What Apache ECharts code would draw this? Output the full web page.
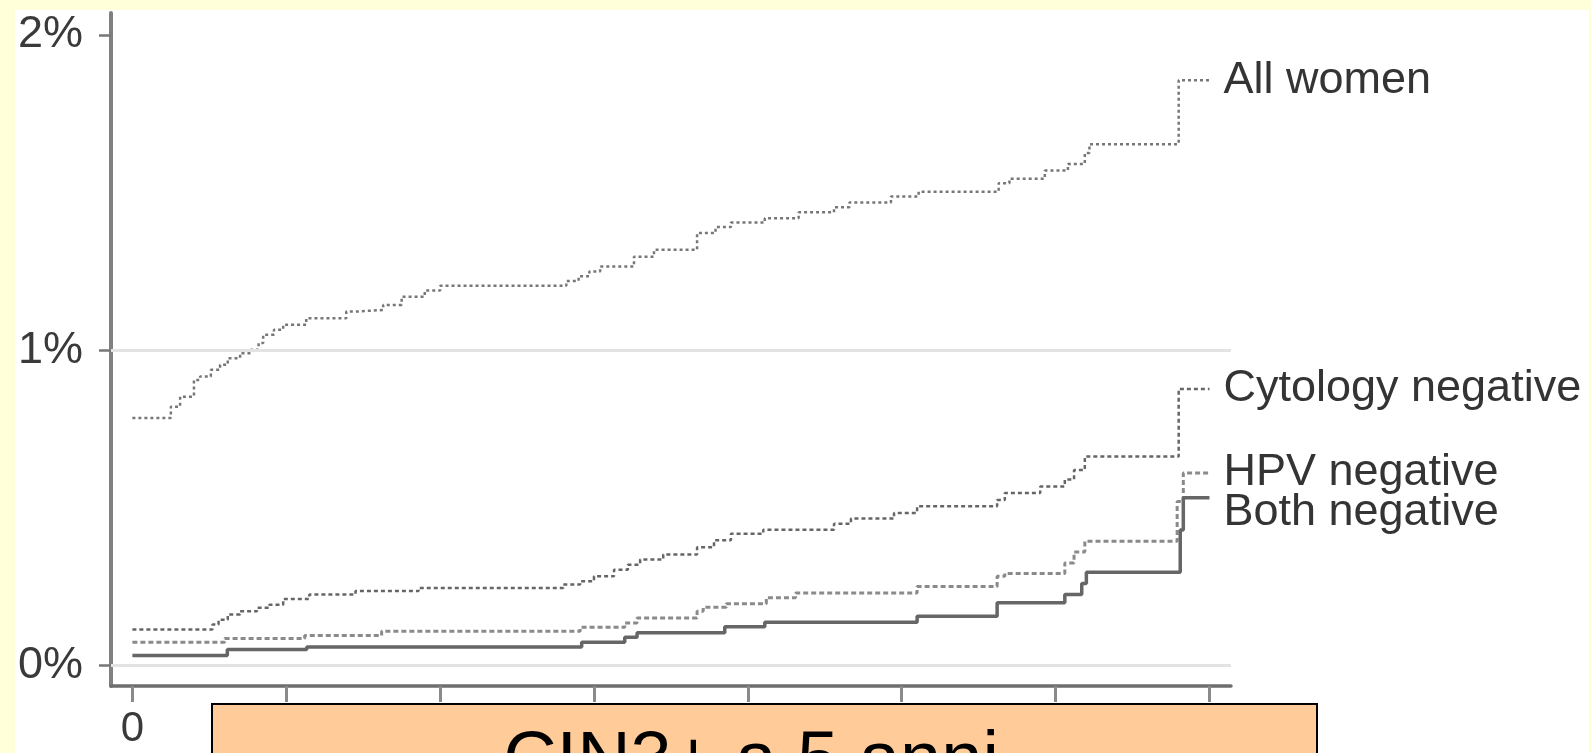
<!DOCTYPE html>
<html>
<head>
<meta charset="utf-8">
<script src="https://cdn.jsdelivr.net/npm/echarts@6/dist/echarts.min.js"></script>
<style>
  html, body { margin: 0; padding: 0; width: 1591px; height: 753px; overflow: hidden; background: #ffffda; }
  #panel { position: absolute; left: 15px; top: 10px; width: 1574px; height: 743px; background: #ffffff; }
  #chart { position: absolute; left: 0; top: 0; width: 1591px; height: 753px; }
</style>
</head>
<body>
<div id="panel"></div>
<div id="chart"></div>
<script>
// Cumulative risk (%) of CIN3+ over follow-up time, step curves by screening result.
const allWomenTime = [0, 0.25, 0.31, 0.40, 0.44, 0.51, 0.57, 0.62, 0.70, 0.77, 0.82, 0.85, 0.92, 0.98, 1.13, 1.39, 1.46, 1.63, 1.75, 1.90, 2.00, 2.82, 2.90, 2.97, 3.04, 3.26, 3.39, 3.67, 3.79, 3.89, 4.11, 4.33, 4.56, 4.66, 4.93, 5.11, 5.63, 5.70, 5.93, 6.08, 6.19, 6.22, 6.80, 7.00];
const allWomenRisk = [0.785, 0.821, 0.853, 0.906, 0.917, 0.938, 0.954, 0.975, 0.991, 1.002, 1.023, 1.049, 1.065, 1.081, 1.102, 1.123, 1.128, 1.144, 1.170, 1.190, 1.205, 1.220, 1.235, 1.250, 1.266, 1.297, 1.319, 1.372, 1.391, 1.405, 1.419, 1.438, 1.454, 1.469, 1.488, 1.503, 1.530, 1.544, 1.570, 1.591, 1.626, 1.654, 1.857, 1.857];

const cytoNegTime = [0, 0.52, 0.56, 0.62, 0.70, 0.81, 0.89, 0.98, 1.15, 1.45, 1.86, 2.80, 2.91, 3.00, 3.13, 3.22, 3.30, 3.45, 3.67, 3.78, 3.89, 4.10, 4.56, 4.67, 4.95, 5.10, 5.62, 5.67, 5.90, 6.06, 6.12, 6.19, 6.80, 7.00];
const cytoNegRisk = [0.114, 0.130, 0.145, 0.162, 0.172, 0.183, 0.193, 0.211, 0.225, 0.236, 0.246, 0.257, 0.267, 0.283, 0.304, 0.320, 0.336, 0.352, 0.375, 0.397, 0.418, 0.431, 0.450, 0.466, 0.484, 0.505, 0.525, 0.547, 0.568, 0.590, 0.620, 0.663, 0.877, 0.877];

const hpvNegTime = [0, 0.60, 1.12, 1.62, 2.91, 3.20, 3.28, 3.67, 3.71, 3.86, 4.12, 4.31, 5.10, 5.62, 5.67, 6.06, 6.12, 6.19, 6.79, 6.83, 7.00];
const hpvNegRisk = [0.074, 0.086, 0.095, 0.109, 0.121, 0.135, 0.151, 0.172, 0.185, 0.196, 0.215, 0.230, 0.251, 0.283, 0.292, 0.325, 0.360, 0.394, 0.520, 0.611, 0.611];

const bothNegTime = [0, 0.617, 1.133, 2.92, 3.20, 3.28, 3.85, 4.11, 5.10, 5.62, 6.06, 6.17, 6.20, 6.81, 6.83, 7.00];
const bothNegRisk = [0.032, 0.051, 0.059, 0.074, 0.090, 0.104, 0.123, 0.137, 0.156, 0.199, 0.225, 0.260, 0.296, 0.430, 0.532, 0.532];

const seriesNames = ['All women', 'Cytology negative', 'HPV negative', 'Both negative'];

const yTickValues = [0, 1, 2];
const yTickLabels = ['0%', '1%', '2%'];
const yGridValues = [0, 1];
const xTickValues = [0, 1, 2, 3, 4, 5, 6, 7];
const xLabelValues = [0];
const xTickLabels = ['0'];

const boxTitle = 'CIN3+ a 5 anni';

const FONT = '"Liberation Sans", Arial, Helvetica, sans-serif';

function zip(t, v) { return t.map((x, i) => [x, v[i]]); }

const endLabelBase = {
  show: true,
  formatter: '{a}',
  distance: 14,
  fontSize: 45,
  fontFamily: FONT,
  color: '#343434'
};

function stepSeries(name, t, v, lineStyle, labelExtra) {
  return {
    type: 'line',
    name: name,
    step: 'end',
    data: zip(t, v),
    showSymbol: false,
    symbol: 'none',
    silent: true,
    z: 3,
    lineStyle: lineStyle,
    endLabel: Object.assign({}, endLabelBase, labelExtra || {})
  };
}

const chart = echarts.init(document.getElementById('chart'), null, { renderer: 'canvas' });

chart.setOption({
  animation: false,
  backgroundColor: 'transparent',
  grid: { left: 111, right: 360, top: 13, bottom: 67, containLabel: false },
  xAxis: {
    type: 'value',
    min: -0.139,
    max: 7.14,
    axisLine: { show: true, onZero: false, lineStyle: { color: '#6e6e6e', width: 3.5 } },
    axisTick: { show: true, customValues: xTickValues, length: 16, inside: false, lineStyle: { color: '#8a8a8a', width: 3 } },
    axisLabel: {
      show: true,
      customValues: xLabelValues,
      formatter: (v) => xTickLabels[xLabelValues.indexOf(v)],
      margin: 22,
      fontSize: 42,
      fontFamily: FONT,
      color: '#3a3a3a'
    },
    splitLine: { show: false }
  },
  yAxis: {
    type: 'value',
    min: -0.065,
    max: 2.07,
    axisLine: { show: true, onZero: false, lineStyle: { color: '#808080', width: 4 } },
    axisTick: { show: true, customValues: yTickValues, length: 12, lineStyle: { color: '#777777', width: 2.5 } },
    axisLabel: {
      show: true,
      customValues: yTickValues,
      formatter: (v) => yTickLabels[yTickValues.indexOf(v)],
      margin: 28,
      fontSize: 45,
      fontFamily: FONT,
      color: '#3a3a3a'
    },
    splitLine: { show: false }
  },
  series: [
    {
      // reference lines at 0% and 1%
      type: 'line',
      name: 'grid',
      data: [],
      silent: true,
      z: 1,
      markLine: {
        silent: true,
        symbol: ['none', 'none'],
        label: { show: false },
        lineStyle: { color: '#e3e3e3', width: 3, type: 'solid' },
        data: yGridValues.map((y) => ({ yAxis: y }))
      }
    },
    stepSeries(seriesNames[0], allWomenTime, allWomenRisk, { color: '#777777', width: 2.5, type: [3, 3] }),
    stepSeries(seriesNames[1], cytoNegTime, cytoNegRisk, { color: '#666666', width: 2.5, type: [4, 3] }),
    stepSeries(seriesNames[2], hpvNegTime, hpvNegRisk, { color: '#8a8a8a', width: 3, type: [5, 3] }),
    stepSeries(seriesNames[3], bothNegTime, bothNegRisk, { color: '#666666', width: 3.5, type: 'solid' }, { offset: [0, 15] })
  ],
  graphic: [
    {
      type: 'rect',
      z: 100,
      shape: { x: 212, y: 704, width: 1105, height: 80 },
      style: { fill: '#FFCC99', stroke: '#000000', lineWidth: 2 }
    },
    {
      type: 'text',
      z: 101,
      x: 751,
      y: 763,
      style: {
        text: boxTitle,
        font: '74px ' + FONT,
        fill: '#000000',
        align: 'center',
        verticalAlign: 'middle'
      }
    }
  ]
});
</script>
</body>
</html>
